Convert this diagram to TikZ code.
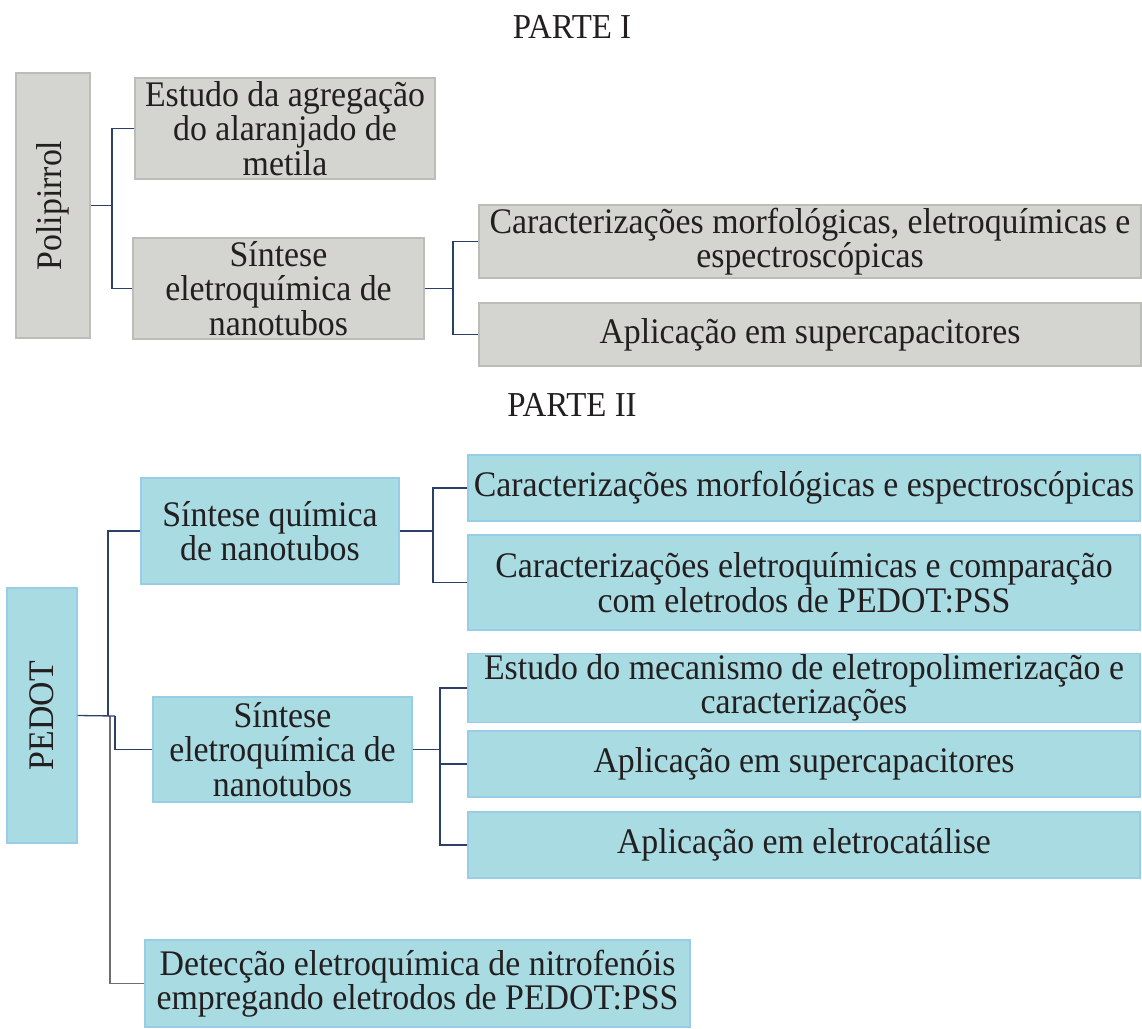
\documentclass[tikz,border=0pt]{standalone}
\usepackage{fontspec}
\usepackage{graphicx}
\setmainfont{Liberation Serif}[FakeStretch=0.94]
\definecolor{gfill}{HTML}{D4D5D0}
\definecolor{gdraw}{HTML}{BBBDB8}
\definecolor{bfill}{HTML}{A9DBE2}
\definecolor{bdraw}{HTML}{99CCE6}
\definecolor{navy}{HTML}{2B3F6B}
\definecolor{conngray}{HTML}{6E6E6E}
\definecolor{txt}{HTML}{231F20}
\tikzset{
  base/.style={inner sep=1pt, align=center, text=txt, font=\fontsize{36}{34.5}\selectfont, line width=1.2pt},
  gbox/.style={base, fill=gfill, draw=gdraw},
  bbox/.style={base, fill=bfill, draw=bdraw},
  conn/.style={draw=navy, line width=1.3pt},
  gconn/.style={draw=conngray, line width=1.6pt},
  title/.style={text=txt, font=\fontsize{35}{34.5}\selectfont},
}
\begin{document}
\begin{tikzpicture}[x=1pt,y=-1pt]
\useasboundingbox (0,0) rectangle (1142,1028);
% PARTE I
\node[title] (t1) at (572,27) {PARTE I};
\node[gbox, minimum width=74pt, minimum height=265pt] (poli) at (53,205.5) {\rotatebox{90}{Polipirrol}};
\node[gbox, minimum width=300pt, minimum height=101pt] (estudo) at (285,128.5) {Estudo da agregação\\do alaranjado de\\metila};
\node[gbox, minimum width=291pt, minimum height=101pt] (sint1) at (278.5,288.5) {Síntese\\eletroquímica de\\nanotubos};
\node[gbox, minimum width=662pt, minimum height=73pt] (car1) at (810,241.5) {Caracterizações morfológicas, eletroquímicas e\\espectroscópicas};
\node[gbox, minimum width=662pt, minimum height=63pt] (apl1) at (810,334.5) {Aplicação em supercapacitores};
\coordinate (j1) at (112,205.5);
\coordinate (j2) at (453,288.5);
\draw[conn] (poli.east) -- (j1);
\draw[conn] (estudo.west) -| (j1) |- (sint1.west);
\draw[conn] (sint1.east) -- (j2);
\draw[conn] (car1.west) -| (j2) |- (apl1.west);
% PARTE II
\node[title] (t2) at (572,405) {PARTE II};
\node[bbox, minimum width=70pt, minimum height=255pt] (pedot) at (42,715.5) {\rotatebox{90}{PEDOT}};
\node[bbox, minimum width=258pt, minimum height=106pt] (sq) at (270,531) {Síntese química\\de nanotubos};
\node[bbox, minimum width=259pt, minimum height=105pt] (se) at (282.5,749.5) {Síntese\\eletroquímica de\\nanotubos};
\node[bbox, minimum width=672pt, minimum height=66pt] (car2a) at (804,488) {Caracterizações morfológicas e espectroscópicas};
\node[bbox, minimum width=672pt, minimum height=95pt] (car2b) at (804,582.5) {Caracterizações eletroquímicas e comparação\\com eletrodos de PEDOT:PSS};
\node[bbox, minimum width=672pt, minimum height=66pt] (est2) at (804,688) {Estudo do mecanismo de eletropolimerização e\\caracterizações};
\node[bbox, minimum width=672pt, minimum height=66pt] (apl2) at (804,764) {Aplicação em supercapacitores};
\node[bbox, minimum width=672pt, minimum height=66pt] (ele) at (804,845) {Aplicação em eletrocatálise};
\node[bbox, minimum width=545pt, minimum height=87pt] (det) at (417.5,983.5) {Detecção eletroquímica de nitrofenóis\\empregando eletrodos de PEDOT:PSS};
\coordinate (p0) at (108,716);
\coordinate (p1) at (115,716);
\coordinate (p2) at (110,716);
\coordinate (j3) at (433,531);
\coordinate (j4) at (440,749.5);
\draw[gconn] (p2) |- (det.west);
\draw[conn] (pedot.east) -- (p1);
\draw[conn] (p0) |- (sq.west);
\draw[conn] (p1) |- (se.west);
\draw[conn] (sq.east) -- (j3);
\draw[conn] (car2a.west) -| (j3) |- (car2b.west);
\draw[conn] (se.east) -- (j4);
\draw[conn] (est2.west) -| (j4) |- (ele.west);
\draw[conn] (j4) |- (apl2.west);
\end{tikzpicture}
\end{document}
